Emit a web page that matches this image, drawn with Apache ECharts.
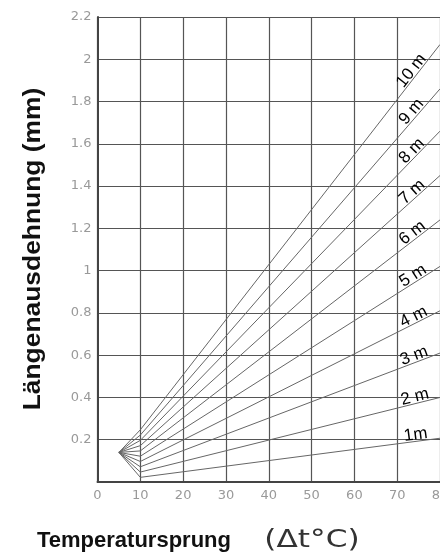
<!DOCTYPE html>
<html>
<head>
<meta charset="utf-8">
<script src="https://cdn.jsdelivr.net/npm/echarts@6/dist/echarts.min.js"></script>
<style>html,body{margin:0;padding:0;background:#fff;overflow:hidden}#c{width:440px;height:560px}</style>
</head>
<body>
<div id="c"></div>
<script>
// ---- data ----
const lengthLabels = ['1m', '2 m', '3 m', '4 m', '5 m', '6 m', '7 m', '8 m', '9 m', '10 m'];
const fanPoint = [5, 0.14];            // common start point of the fan
const startTemp = 10;                  // Δt where each line leaves the fan
const endTemp = 80;                    // Δt at the right edge
const valuesAt10 = [0.022, 0.047, 0.072, 0.097, 0.122, 0.147, 0.172, 0.197, 0.222, 0.247];
const valuesAt80 = [0.207, 0.40, 0.61, 0.81, 1.02, 1.24, 1.45, 1.66, 1.86, 2.07];
const labelTemp = 74.5;
const xTickLabels = ['0', '10', '20', '30', '40', '50', '60', '70', '80'];
const yTickLabels = ['', '0.2', '0.4', '0.6', '0.8', '1', '1.2', '1.4', '1.6', '1.8', '2', '2.2'];
const xTitle = 'Temperatursprung';
const xUnit = '(Δt°C)';
const yTitle = 'Längenausdehnung (mm)';

const chart = echarts.init(document.getElementById('c'), null, {renderer: 'canvas', width: 440, height: 560});

const lineSeries = lengthLabels.map((name, i) => ({
  type: 'line',
  name: name,
  data: [[fanPoint[0], fanPoint[1]], [startTemp, valuesAt10[i]], [endTemp, valuesAt80[i]]],
  showSymbol: false,
  symbol: 'none',
  lineStyle: {color: '#666', width: 1},
  silent: true,
  z: 3
}));

const labelData = lengthLabels.map((n, i) => [
  labelTemp,
  valuesAt10[i] + (valuesAt80[i] - valuesAt10[i]) * (labelTemp - startTemp) / (endTemp - startTemp),
  i
]);

const labelSeries = {
  type: 'custom',
  data: labelData,
  encode: {x: 0, y: 1},
  z: 5,
  renderItem: function (params, api) {
    const i = api.value(2);
    const p = api.coord([api.value(0), api.value(1)]);
    const a = api.coord([startTemp, valuesAt10[i]]);
    const b = api.coord([endTemp, valuesAt80[i]]);
    const ang = Math.atan2(a[1] - b[1], b[0] - a[0]);
    return {
      type: 'text',
      x: p[0], y: p[1],
      rotation: ang,
      style: {
        text: lengthLabels[i],
        x: 0, y: 2,
        textAlign: 'center', align: 'center',
        textVerticalAlign: 'bottom', verticalAlign: 'bottom',
        font: '17px "Liberation Sans"',
        fill: '#000'
      }
    };
  }
};

chart.setOption({
  animation: false,
  backgroundColor: '#fff',
  grid: {left: 97.5, right: 0, top: 17, bottom: 78, containLabel: false, outerBoundsMode: 'none'},
  xAxis: {
    type: 'value', min: 0, max: 80, interval: 10,
    axisLine: {show: true, onZero: false, lineStyle: {color: '#444', width: 2}},
    axisTick: {show: false},
    splitLine: {show: true, lineStyle: {color: '#555', width: 1.2}},
    axisLabel: {
      margin: 7, color: '#999', fontSize: 13, fontFamily: 'DejaVu Sans',
      formatter: v => xTickLabels[Math.round(v / 10)]
    }
  },
  yAxis: {
    type: 'value', min: 0, max: 2.2, interval: 0.2,
    axisLine: {show: true, onZero: false, lineStyle: {color: '#444', width: 2}},
    axisTick: {show: false},
    splitLine: {show: true, lineStyle: {color: '#555', width: 1.2}},
    axisLabel: {
      margin: 6, color: '#999', fontSize: 13, fontFamily: 'DejaVu Sans',
      formatter: v => yTickLabels[Math.round(v / 0.2)]
    }
  },
  graphic: [
    {type: 'text', x: 37, y: 541, style: {text: xTitle, font: 'bold 22px "Liberation Sans"', fill: '#111', textAlign: 'left', textVerticalAlign: 'middle'}},
    {type: 'text', x: 312, y: 541, scaleX: 1.3, style: {text: xUnit, font: '24px "DejaVu Sans"', fill: '#333', textAlign: 'center', textVerticalAlign: 'middle'}},
    {type: 'text', x: 33, y: 249, rotation: Math.PI / 2, scaleX: 1.1, style: {text: yTitle, font: 'bold 24px "Liberation Sans"', fill: '#111', textAlign: 'center', textVerticalAlign: 'middle'}}
  ],
  series: lineSeries.concat([labelSeries])
});
</script>
</body>
</html>
